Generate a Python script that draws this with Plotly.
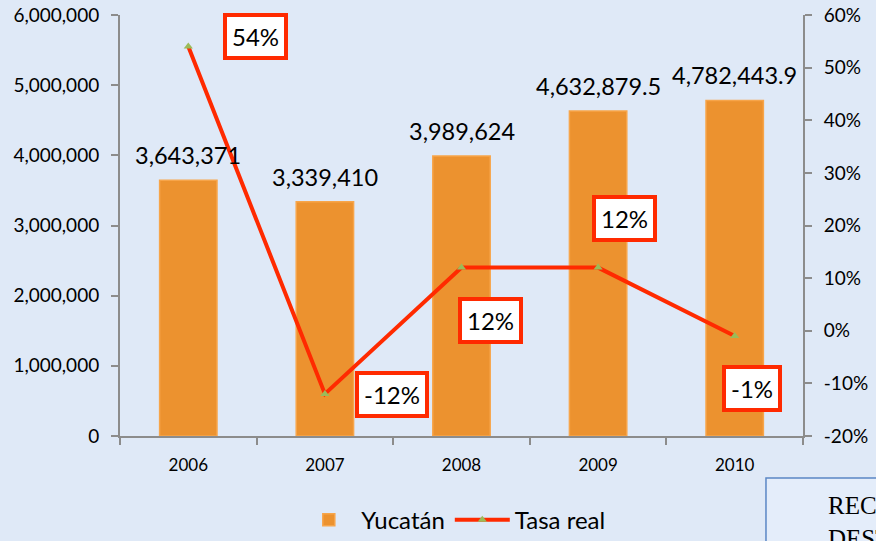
import plotly.graph_objects as go

years = ["2006", "2007", "2008", "2009", "2010"]
yucatan = [3643371, 3339410, 3989624, 4632879.5, 4782443.9]
tasa_real = [54, -12, 12, 12, -1]
left_ticks = [0, 1000000, 2000000, 3000000, 4000000, 5000000, 6000000]
right_ticks = [-20, -10, 0, 10, 20, 30, 40, 50, 60]

FONT = "Lato, 'Open Sans', sans-serif"
BG = "#dfe9f7"

fig = go.Figure()
fig.add_trace(go.Bar(
    x=years, y=yucatan, name="Yucatán",
    marker=dict(color="#ec922f", line=dict(color="#f7a54a", width=1.5)),
    width=0.42,
))
fig.add_trace(go.Scatter(
    x=years, y=tasa_real, name="Tasa real", yaxis="y2",
    mode="lines+markers",
    line=dict(color="#ff2a00", width=4),
    marker=dict(symbol="triangle-up", size=8, color="#9bbb59"),
))

# bar value labels (x given as category index)
for i, v in enumerate(yucatan):
    fig.add_annotation(x=i, y=v, xref="x", yref="y", text=f"{v:,}",
                       showarrow=False, yanchor="bottom", yshift=9,
                       font=dict(size=23.5, color="black", family=FONT))

# rate labels (offsets relative to each point)
offsets = [(67, 10), (67, -1), (29, -53), (26, 49), (17, -52)]
for i, (v, (dx, dy)) in enumerate(zip(tasa_real, offsets)):
    fig.add_annotation(x=i, y=v, xref="x", yref="y2", text=f"{v}%",
                       showarrow=False, xshift=dx, yshift=dy,
                       font=dict(size=24, color="black", family=FONT),
                       bgcolor="white", bordercolor="#ff2a00", borderwidth=4,
                       borderpad=5)

# partially visible box at bottom right
fig.add_shape(type="rect", xref="paper", yref="paper",
              x0=0.9458, x1=1.2, y0=-0.35, y1=-0.0998,
              fillcolor="#e4edfa", line=dict(color="#5b87c5", width=1.5))
fig.add_annotation(xref="paper", yref="paper", x=1.0337, y=-0.204,
                   xanchor="left", yanchor="middle", showarrow=False, align="left",
                   text="RECURSOS<br>DESTINADOS",
                   font=dict(size=25, color="black", family="'Liberation Serif', serif"))

axis_line = dict(showline=True, linecolor="#8c8c8c", linewidth=2,
                 ticks="outside", tickcolor="#8c8c8c", ticklen=7, tickwidth=2)

fig.update_layout(
    width=876, height=541,
    margin=dict(l=120, r=73, t=15, b=105, autoexpand=False),
    paper_bgcolor=BG, plot_bgcolor=BG,
    font=dict(family=FONT, color="black"),
    showlegend=True,
    legend=dict(orientation="h", x=0.488, xanchor="center", y=-0.2, yanchor="middle",
                font=dict(size=24, family=FONT), bgcolor="rgba(0,0,0,0)",
                itemwidth=55),
    xaxis=dict(type="category", tickfont=dict(size=17), tickson="boundaries",
               showgrid=False, ticklabelstandoff=13, **axis_line, range=[-0.5, 4.5]),
    yaxis=dict(range=[0, 6000000], tickvals=left_ticks,
               ticktext=[f"{t:,}" for t in left_ticks], ticklabelstandoff=8,
               tickfont=dict(size=19), showgrid=False, zeroline=False, **axis_line),
    yaxis2=dict(overlaying="y", side="right", range=[-20, 60], tickvals=right_ticks,
                ticktext=[f"{t}%" for t in right_ticks], tickfont=dict(size=19),
                ticklabelstandoff=8,
                showgrid=False, zeroline=False, **axis_line),
)

fig.write_html("out.html", config={"displayModeBar": False},
               post_script="document.body.style.margin='0';document.body.style.overflow='hidden';")
